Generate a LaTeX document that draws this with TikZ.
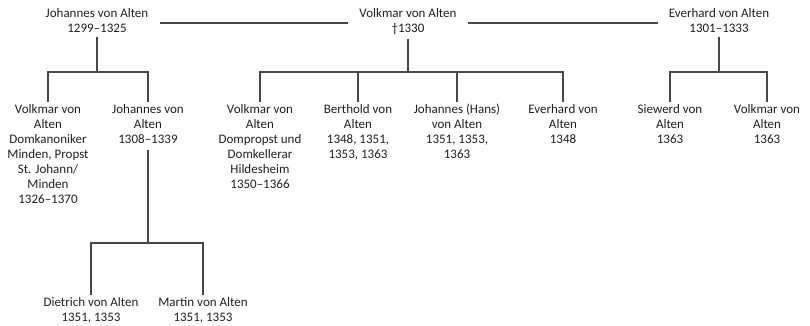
\documentclass[tikz,border=0pt]{standalone}
\usepackage{fontspec}
\setmainfont{Carlito}
\begin{document}
\begin{tikzpicture}[x=1pt,y=-1pt,
  person/.style={align=center,inner xsep=11pt,inner ysep=2pt,text=black!88,
    font=\fontsize{13}{15}\selectfont},
  top/.style={person,anchor=north},
  child/.style={person,anchor=north,inner xsep=2pt},
  link/.style={draw=black!72,line width=1.3pt}]
\useasboundingbox (0,0) rectangle (810,325);
% top generation
\node[top] (jt) at (97,6) {Johannes von Alten\\1299–1325};
\node[top] (vt) at (408,6) {Volkmar von Alten\\†1330};
\node[top] (et) at (719,6) {Everhard von Alten\\1301–1333};
\coordinate (hy) at (0,23);
\draw[link] (jt.east |- hy) -- (vt.west |- hy);
\draw[link] (vt.east |- hy) -- (et.west |- hy);
% bar coordinates
\coordinate (bj) at (97,72);
\coordinate (bv) at (408,72);
\coordinate (be) at (719,72);
\coordinate (bjc) at (148,243);
% children of Johannes
\node[child] (j1) at (48,102) {Volkmar von\\Alten\\Domkanoniker\\Minden, Propst\\St. Johann/\\Minden\\1326–1370};
\node[child] (j2) at (148,102) {Johannes von\\Alten\\1308–1339};
% children of Volkmar
\node[child] (v1) at (260,102) {Volkmar von\\Alten\\Dompropst und\\Domkellerar\\Hildesheim\\1350–1366};
\node[child] (v2) at (358,102) {Berthold von\\Alten\\1348, 1351,\\1353, 1363};
\node[child] (v3) at (457,102) {Johannes (Hans)\\von Alten\\1351, 1353,\\1363};
\node[child] (v4) at (563,102) {Everhard von\\Alten\\1348};
% children of Everhard
\node[child] (e1) at (670,102) {Siewerd von\\Alten\\1363};
\node[child] (e2) at (767,102) {Volkmar von\\Alten\\1363};
% grandchildren
\node[child] (g1) at (91,295) {Dietrich von Alten\\1351, 1353};
\node[child] (g2) at (203,295) {Martin von Alten\\1351, 1353};
% connectors
\draw[link] ([yshift=-2pt]jt.south) -- (bj);
\draw[link] (j1.north) |- (bj) -| (j2.north);
\draw[link] ([yshift=-2pt]vt.south) -- (bv);
\draw[link] (v1.north) |- (bv) -| (v4.north);
\draw[link] (v2.north) -- (v2.north |- bv);
\draw[link] (v3.north) -- (v3.north |- bv);
\draw[link] ([yshift=-2pt]et.south) -- (be);
\draw[link] (e1.north) |- (be) -| (e2.north);
\draw[link] ([yshift=-4pt]j2.south) -- (bjc);
\draw[link] (g1.north) |- (bjc) -| (g2.north);
\end{tikzpicture}
\end{document}
